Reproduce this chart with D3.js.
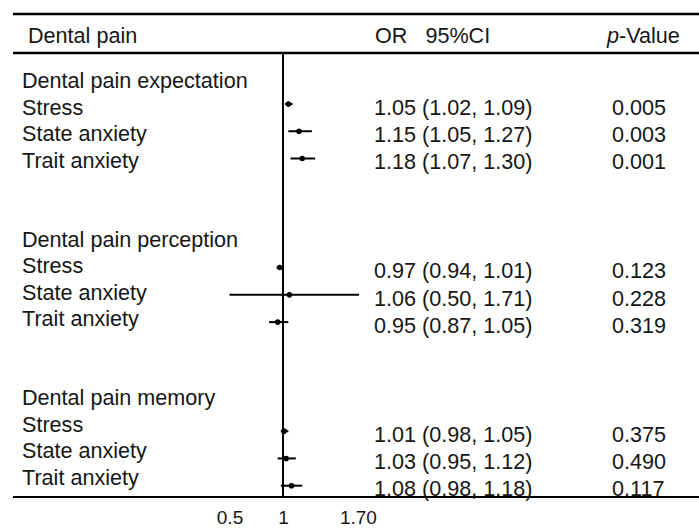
<!DOCTYPE html>
<html>
<head>
<meta charset="utf-8">
<script src="https://cdn.jsdelivr.net/npm/d3@7"></script>
<style>
  html, body { margin: 0; padding: 0; background: #fff; }
  svg { display: block; }
  text { font-family: Arial, "Liberation Sans", sans-serif; fill: #161616; }
</style>
</head>
<body>
<svg id="chart" width="699" height="529"></svg>
<script>
// ---- data ----
const groups = ["Dental pain expectation", "Dental pain perception", "Dental pain memory"];
const items = ["Stress", "State anxiety", "Trait anxiety"];
const orValues = [[1.05, 1.15, 1.18], [0.97, 1.06, 0.95], [1.01, 1.03, 1.08]];
const ciLow    = [[1.02, 1.05, 1.07], [0.94, 0.50, 0.87], [0.98, 0.95, 0.98]];
const ciHigh   = [[1.09, 1.27, 1.30], [1.01, 1.71, 1.05], [1.05, 1.12, 1.18]];
const pValues  = [["0.005", "0.003", "0.001"], ["0.123", "0.228", "0.319"], ["0.375", "0.490", "0.117"]];
const tickValues = [0.5, 1, 1.7];
const tickLabels = ["0.5", "1", "1.70"];
const headers = { label: "Dental pain", est: "OR   95%CI", p: "-Value" };

// ---- layout ----
const W = 699, H = 529;
const svg = d3.select("#chart");
const FS = 21.6;
const capHalf = FS * 0.716 / 2;

const x = d3.scaleLinear().domain([0.5, 1.7]).range([229.5, 357.9]);
// slot -> vertical position (labels column and marks/values column drift slightly in the original)
const labelY = d3.scaleLinear().domain([0, 15]).range([80.6, 477]);
const rowY = d3.scaleLinear().domain([0, 15]).range([76.7, 485.7]);

const rows = [];
groups.forEach((g, gi) => {
  const base = gi * 6;
  rows.push({ type: "title", text: g, slot: base });
  items.forEach((it, ii) => {
    rows.push({
      type: "item", text: it, slot: base + 1 + ii,
      or: orValues[gi][ii], lo: ciLow[gi][ii], hi: ciHigh[gi][ii], p: pValues[gi][ii]
    });
  });
});

// rules
const rule = (y, w) => svg.append("line").attr("x1", 13).attr("x2", W).attr("y1", y).attr("y2", y)
  .attr("stroke", "#000").attr("stroke-width", w);
rule(14, 2.5);
rule(53, 2.5);
rule(497, 2.2);

// headers
svg.append("text").attr("x", 28).attr("y", 43).attr("font-size", FS).text(headers.label);
svg.append("text").attr("x", 375).attr("y", 43).attr("font-size", FS)
  .style("white-space", "pre").text(headers.est);
const ph = svg.append("text").attr("x", 607).attr("y", 43).attr("font-size", FS);
ph.append("tspan").attr("font-style", "italic").text("p");
ph.append("tspan").text(headers.p);

// reference line at OR = 1
svg.append("line").attr("x1", x(1)).attr("x2", x(1)).attr("y1", 53).attr("y2", 497)
  .attr("stroke", "#000").attr("stroke-width", 2);

// left labels
svg.selectAll("text.lab").data(rows).join("text").attr("class", "lab")
  .attr("x", 22).attr("y", d => labelY(d.slot) + capHalf)
  .attr("font-size", FS).text(d => d.text);

const itemRows = rows.filter(d => d.type === "item");

// CI lines
svg.selectAll("line.ci").data(itemRows).join("line").attr("class", "ci")
  .attr("x1", d => x(d.lo)).attr("x2", d => x(d.hi))
  .attr("y1", d => rowY(d.slot)).attr("y2", d => rowY(d.slot))
  .attr("stroke", "#000").attr("stroke-width", 2);

// point estimates
svg.selectAll("circle.pt").data(itemRows).join("circle").attr("class", "pt")
  .attr("cx", d => x(d.or)).attr("cy", d => rowY(d.slot)).attr("r", 2.8).attr("fill", "#000");

// OR (CI) text
svg.selectAll("text.est").data(itemRows).join("text").attr("class", "est")
  .attr("x", 374).attr("y", d => rowY(d.slot) + 3 + capHalf).attr("font-size", FS)
  .text(d => `${d.or.toFixed(2)} (${d.lo.toFixed(2)}, ${d.hi.toFixed(2)})`);

// p values
svg.selectAll("text.pv").data(itemRows).join("text").attr("class", "pv")
  .attr("x", 612).attr("y", d => rowY(d.slot) + 3 + capHalf).attr("font-size", FS)
  .text(d => d.p);

// bottom axis (labels only)
const axis = d3.axisBottom(x).tickValues(tickValues)
  .tickFormat((d, i) => tickLabels[i]).tickSize(0).tickPadding(0);
const ag = svg.append("g").attr("transform", "translate(0,510.5)").call(axis);
ag.select(".domain").remove();
ag.selectAll("text").attr("font-size", 19).attr("font-family", "Arial, 'Liberation Sans', sans-serif").attr("fill", "#161616");
</script>
</body>
</html>
